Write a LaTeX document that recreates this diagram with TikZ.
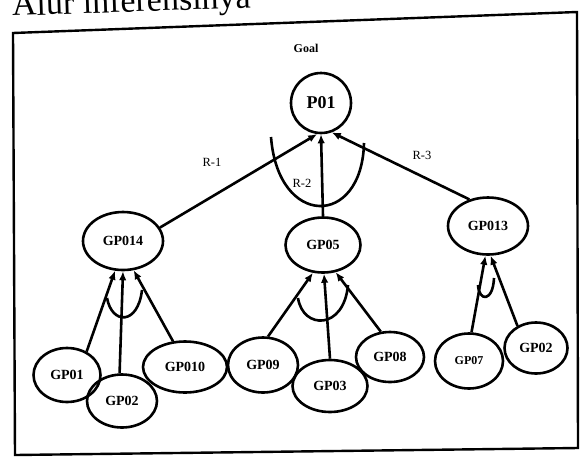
\documentclass[tikz,border=0pt]{standalone}
\usepackage{fontspec}
\setmainfont{Liberation Serif}
\usetikzlibrary{shapes.geometric, arrows.meta}

\begin{document}
\begin{tikzpicture}[x=1pt, y=-1pt, line width=2.6pt,
  gpnode/.style={ellipse, draw, inner sep=0pt, font=\fontsize{14}{14}\selectfont\bfseries},
  rule/.style={-{Latex[length=9pt, width=7.5pt]}},
  rlabel/.style={font=\fontsize{12.5}{12.5}\selectfont}]
  \useasboundingbox (0,0) rectangle (586,456);
  \begin{scope}
    \clip (0,0) rectangle (586,456);
    \node[anchor=base west, inner sep=0pt, rotate=2, font=\fontsize{34}{34}\selectfont] (judul) at (11,16) {Alur inferensinya};
  \end{scope}
  \draw[line width=2.4pt] (13,33) -- (577,12) -- (578,448) -- (15,455) -- cycle;
  \node[font=\fontsize{12}{12}\selectfont\bfseries] (goal) at (306,48) {Goal};
  \node[circle, draw, minimum size=60pt, inner sep=0pt, font=\fontsize{18}{18}\selectfont\bfseries] (p01) at (321,103) {P01};
  \node[gpnode, minimum width=80pt, minimum height=58pt] (gp014) at (123,241) {GP014};
  \node[gpnode, minimum width=75pt, minimum height=55pt] (gp05) at (323,245) {GP05};
  \node[gpnode, minimum width=80pt, minimum height=57pt] (gp013) at (488,226) {GP013};
  \node[gpnode, minimum width=67pt, minimum height=54pt] (gp01) at (67,375) {GP01};
  \node[gpnode, minimum width=70pt, minimum height=53pt] (gp02a) at (122,401) {GP02};
  \node[gpnode, minimum width=84pt, minimum height=51pt] (gp010) at (185,367) {GP010};
  \node[gpnode, minimum width=70pt, minimum height=55pt] (gp09) at (263,365) {GP09};
  \node[gpnode, minimum width=75pt, minimum height=52pt] (gp03) at (330,386) {GP03};
  \node[gpnode, minimum width=68pt, minimum height=50pt] (gp08) at (390,357) {GP08};
  \node[gpnode, minimum width=68pt, minimum height=55pt, font=\fontsize{12}{12}\selectfont\bfseries] (gp07) at (469,361) {GP07};
  \node[gpnode, minimum width=63pt, minimum height=51pt] (gp02b) at (536,348) {GP02};
  \node[rlabel] (r1) at (212,162) {R-1};
  \node[rlabel] (r2) at (302,183) {R-2};
  \node[rlabel] (r3) at (422,155) {R-3};
  \draw[rule] (gp014.20) -- (p01.-97);
  \draw[rule] (gp05.north) -- (p01.south);
  \draw[rule] (gp013.125) -- (p01.-70);
  \draw (271,137) .. controls (278,228) and (362,228) .. (364,143);
  \draw[rule] (gp01.50) -- (gp014.-105);
  \draw[rule] (gp02a.95) -- (gp014.-90);
  \draw[rule] (gp010.115) -- (gp014.-70);
  \draw (107,298) .. controls (112,325) and (138,325) .. (142,290);
  \draw[rule] (gp09.80) -- (gp05.-110);
  \draw[rule] (gp03.north) -- (gp05.-88);
  \draw[rule] (gp08.110) -- (gp05.-65);
  \draw (298,298) .. controls (303,330) and (344,330) .. (348,285);
  \draw[rule] (gp07.85) -- (gp013.-95);
  \draw[rule] (gp02b.130) -- (gp013.-85);
  \draw (478,285) .. controls (479,302) and (493,302) .. (494,278);
\end{tikzpicture}
\end{document}
